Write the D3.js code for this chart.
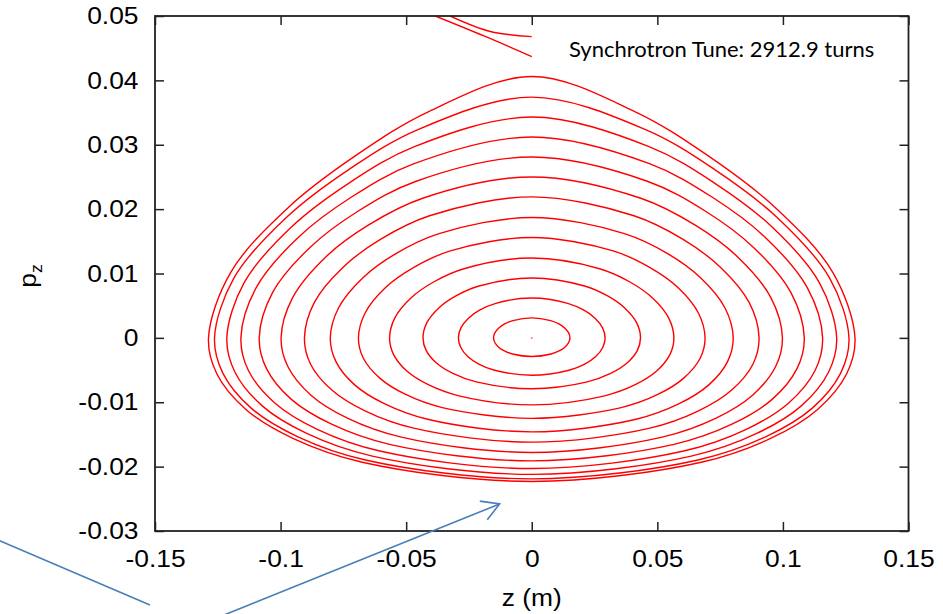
<!DOCTYPE html>
<html>
<head>
<meta charset="utf-8">
<script src="https://cdn.jsdelivr.net/npm/d3@7"></script>
<style>
  body { margin: 0; background: #fff; }
  svg { display: block; }
  .tick text { font-family: "Liberation Sans", Arial, sans-serif; font-size: 24px; fill: #000; }
  .tick line { stroke: #222; stroke-width: 1.5; }
  .frame { fill: none; stroke: #222; stroke-width: 1.8; }
  .orbit { fill: none; stroke: #ff0000; stroke-width: 1.4; }
  .axis-label { font-family: "Liberation Sans", Arial, sans-serif; font-size: 24px; fill: #000; }
  .note { font-family: Lato, "Open Sans", sans-serif; font-size: 22px; fill: #000; }
  .callout { fill: none; stroke: #4a7ebb; stroke-width: 1.6; }
</style>
</head>
<body>
<div class="chart-container"></div>
<script>
var totalWidth = 943;
var totalHeight = 614;
var margin = {
  top: 16,
  bottom: 83,
  left: 155,
  right: 34.5
};
var width = totalWidth - margin.left - margin.right;
var height = totalHeight - margin.top - margin.bottom;

// axis ticks
var xTicks = [-0.15, -0.1, -0.05, 0, 0.05, 0.1, 0.15];
var xTickLabels = ['-0.15', '-0.1', '-0.05', '0', '0.05', '0.1', '0.15'];
var yTicks = [0.05, 0.04, 0.03, 0.02, 0.01, 0, -0.01, -0.02, -0.03];
var yTickLabels = ['0.05', '0.04', '0.03', '0.02', '0.01', '0', '-0.01', '-0.02', '-0.03'];

// closed orbits, innermost first
var orbitPTop    = [0.0031, 0.0062, 0.0093, 0.0124, 0.0156, 0.0187, 0.0219, 0.0250, 0.0281, 0.0312, 0.0343, 0.0374, 0.0406];
var orbitPBottom = [-0.0029, -0.0058, -0.0079, -0.0104, -0.0125, -0.0146, -0.0162, -0.0178, -0.0191, -0.0203, -0.0212, -0.0219, -0.0223];
var orbitZMax    = [0.0152, 0.0292, 0.0433, 0.0566, 0.0690, 0.0802, 0.0905, 0.0998, 0.1085, 0.1158, 0.1214, 0.1263, 0.1287];

// |z| where each branch crosses a fraction of its top / bottom momentum
var branchLevels = [0.866, 0.7, 0.5, 0.25];
var orbitZUpper87 = [0.0075, 0.0143, 0.0210, 0.0270, 0.0324, 0.0369, 0.0407, 0.0437, 0.0460, 0.0471, 0.0467, 0.0451, 0.0410];
var orbitZUpper70 = [0.0108, 0.0206, 0.0302, 0.0391, 0.0471, 0.0541, 0.0601, 0.0651, 0.0692, 0.0719, 0.0729, 0.0727, 0.0697];
var orbitZUpper50 = [0.0131, 0.0251, 0.0370, 0.0481, 0.0583, 0.0672, 0.0752, 0.0822, 0.0883, 0.0930, 0.0959, 0.0977, 0.0968];
var orbitZUpper25 = [0.0147, 0.0282, 0.0418, 0.0545, 0.0663, 0.0769, 0.0866, 0.0952, 0.1032, 0.1097, 0.1145, 0.1185, 0.1199];
var orbitZLower25 = [0.0147, 0.0283, 0.0420, 0.0550, 0.0671, 0.0780, 0.0881, 0.0971, 0.1056, 0.1128, 0.1182, 0.1230, 0.1254];
var orbitZLower50 = [0.0132, 0.0255, 0.0378, 0.0496, 0.0605, 0.0705, 0.0796, 0.0879, 0.0957, 0.1022, 0.1072, 0.1116, 0.1137];
var orbitZLower70 = [0.0109, 0.0211, 0.0314, 0.0412, 0.0504, 0.0587, 0.0664, 0.0734, 0.0799, 0.0854, 0.0896, 0.0933, 0.0951];
var orbitZLower87 = [0.0077, 0.0148, 0.0221, 0.0290, 0.0356, 0.0415, 0.0470, 0.0519, 0.0566, 0.0605, 0.0635, 0.0662, 0.0675];

// untrapped tracks leaving through the top of the plot
var outerTrackA = [[-0.0384, 0.0500], [-0.0190, 0.0469], [0, 0.0437]];
var outerTrackB = [[-0.0325, 0.0500], [-0.0165, 0.0476], [0, 0.0468]];

var noteText = 'Synchrotron Tune: 2912.9 turns';

// blue callout lines (data units)
var arrowFrom = [-0.1235, -0.0432];
var arrowTo = [-0.0128, -0.0258];
var leftLine = [[-0.2120, -0.0315], [-0.1520, -0.0415]];

var upperBranch = [orbitZUpper87, orbitZUpper70, orbitZUpper50, orbitZUpper25];
var lowerBranch = [orbitZLower87, orbitZLower70, orbitZLower50, orbitZLower25];

function orbitPoints(i) {
  var pt = orbitPTop[i], pb = orbitPBottom[i];
  var half = [];
  upperBranch.forEach((zs, k) => half.push([zs[i], branchLevels[k] * pt]));
  half.push([orbitZMax[i], 0]);
  lowerBranch.slice().reverse().forEach((zs, k) => {
    half.push([zs[i], branchLevels[branchLevels.length - 1 - k] * pb]);
  });
  var left = half.map(d => [-d[0], d[1]]);
  var right = half.slice().reverse();
  return [[0, pt]].concat(left, [[0, pb]], right);
}

function buildChart() {
  var svg = d3.select('.chart-container').append('svg')
    .attr('width', totalWidth)
    .attr('height', totalHeight);

  var x = d3.scaleLinear().domain([-0.15, 0.15]).range([0, width]);
  var y = d3.scaleLinear().domain([-0.03, 0.05]).range([height, 0]);

  var plot = svg.append('g')
    .attr('transform', `translate(${margin.left}, ${margin.top})`);

  svg.append('defs').append('clipPath').attr('id', 'clip')
    .append('rect').attr('width', width).attr('height', height);

  var orbitLine = d3.line()
    .x(d => x(d[0]))
    .y(d => y(d[1]))
    .curve(d3.curveCatmullRomClosed.alpha(0.5));

  var trackLine = d3.line()
    .x(d => x(d[0]))
    .y(d => y(d[1]))
    .curve(d3.curveCatmullRom.alpha(0.5));

  var marks = plot.append('g').attr('clip-path', 'url(#clip)');

  marks.selectAll('path.orbit')
    .data(d3.range(orbitPTop.length)).enter()
    .append('path')
      .attr('class', 'orbit')
      .attr('d', i => orbitLine(orbitPoints(i)));

  marks.selectAll('path.track')
    .data([outerTrackA, outerTrackB]).enter()
    .append('path')
      .attr('class', 'orbit track')
      .attr('d', trackLine);

  marks.append('circle')
    .attr('cx', x(0))
    .attr('cy', y(0))
    .attr('r', 1)
    .attr('fill', '#f77');

  /*
   * Axes, ticks inside on all four sides
   */
  var gX = plot.append('g')
    .attr('transform', `translate(0, ${height})`)
    .call(d3.axisBottom(x).tickValues(xTicks).tickSizeInner(-9).tickSizeOuter(0).tickPadding(19)
      .tickFormat((d, i) => xTickLabels[i]));
  plot.append('g')
    .call(d3.axisTop(x).tickValues(xTicks).tickSizeInner(-9).tickSizeOuter(0).tickFormat(''));
  var gY = plot.append('g')
    .call(d3.axisLeft(y).tickValues(yTicks).tickSizeInner(-9).tickSizeOuter(0).tickPadding(15)
      .tickFormat((d, i) => yTickLabels[i]));
  plot.append('g')
    .attr('transform', `translate(${width}, 0)`)
    .call(d3.axisRight(y).tickValues(yTicks).tickSizeInner(-9).tickSizeOuter(0).tickFormat(''));
  plot.selectAll('.domain').remove();
  gX.selectAll('text').attr('transform', 'scale(1.1,1)');
  gY.selectAll('text').attr('transform', 'scale(1.1,1)');

  plot.append('rect')
    .attr('class', 'frame')
    .attr('width', width)
    .attr('height', height);

  svg.append('text')
    .attr('class', 'axis-label')
    .attr('text-anchor', 'middle')
    .attr('transform', `translate(${margin.left + width / 2}, 606) scale(1.1,1)`)
    .text('z (m)');

  var yl = svg.append('text')
    .attr('class', 'axis-label')
    .attr('text-anchor', 'middle')
    .attr('transform', `translate(36, 276) rotate(-90) scale(1.1,1)`);
  yl.append('tspan').text('p');
  yl.append('tspan').attr('dy', 6).attr('font-size', 16).text('z');

  svg.append('text')
    .attr('class', 'note')
    .attr('x', 569)
    .attr('y', 57)
    .text(noteText);

  /*
   * Callout arrow
   */
  var call = plot.append('g').attr('class', 'callout');
  var x0 = x(arrowFrom[0]), y0 = y(arrowFrom[1]);
  var x1 = x(arrowTo[0]), y1 = y(arrowTo[1]);
  var ang = Math.atan2(y1 - y0, x1 - x0);
  var head = 20, spread = Math.PI / 6;
  call.append('line').attr('x1', x0).attr('y1', y0).attr('x2', x1).attr('y2', y1);
  call.append('path').attr('d', d3.line()([
    [x1 - head * Math.cos(ang - spread), y1 - head * Math.sin(ang - spread)],
    [x1, y1],
    [x1 - head * Math.cos(ang + spread), y1 - head * Math.sin(ang + spread)]
  ]));
  call.append('line')
    .attr('x1', x(leftLine[0][0])).attr('y1', y(leftLine[0][1]))
    .attr('x2', x(leftLine[1][0])).attr('y2', y(leftLine[1][1]));
}

buildChart();
</script>
</body>
</html>
